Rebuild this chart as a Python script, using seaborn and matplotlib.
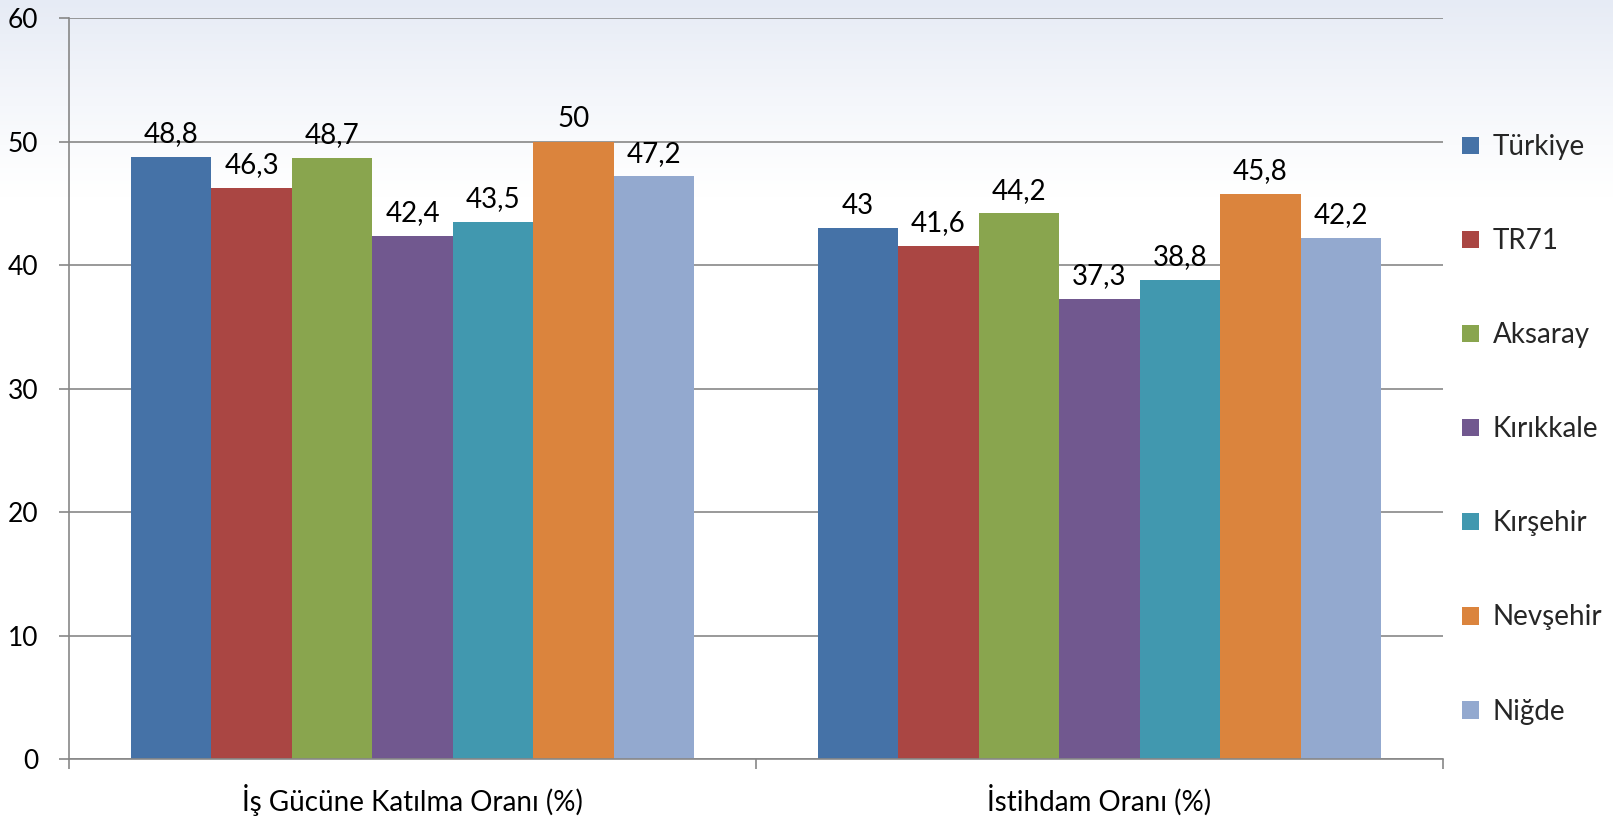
import numpy as np
import pandas as pd
import matplotlib
matplotlib.use("Agg")
import matplotlib.pyplot as plt
import seaborn as sns

categories = ["İş Gücüne Katılma Oranı (%)", "İstihdam Oranı (%)"]
regions = ["Türkiye", "TR71", "Aksaray", "Kırıkkale", "Kırşehir", "Nevşehir", "Niğde"]
participation = [48.8, 46.3, 48.7, 42.4, 43.5, 50.0, 47.2]
employment = [43.0, 41.6, 44.2, 37.3, 38.8, 45.8, 42.2]
colors = ["#4572A7", "#AA4643", "#89A54E", "#71588F", "#4198AF", "#DB843D", "#93A9CF"]

rows = []
for r, a, b in zip(regions, participation, employment):
    rows.append({"category": categories[0], "region": r, "value": a})
    rows.append({"category": categories[1], "region": r, "value": b})
df = pd.DataFrame(rows)

sns.set_theme(style="white")
plt.rcParams["font.family"] = ["Lato", "DejaVu Sans"]

fig = plt.figure(figsize=(16.13, 8.21), dpi=100)

# background gradient
bg = fig.add_axes([0, 0, 1, 1], zorder=-10)
h = 400
grad = np.ones((h, 1, 3))
top = np.array([0xe6, 0xeb, 0xf5]) / 255.0
for i in range(h):
    t = i / h
    f = max(0.0, 1 - t / 0.24) ** 1.2
    grad[i, 0, :] = top * f + np.ones(3) * (1 - f)
bg.imshow(grad, aspect="auto", extent=[0, 1, 0, 1], origin="upper")
bg.axis("off")

ax = fig.add_axes([0.0428, 0.0755, 0.8518, 0.902])
ax.set_facecolor("none")
sns.barplot(data=df, x="category", y="value", hue="region", order=categories,
            hue_order=regions, palette=colors, width=0.82, saturation=1,
            dodge=True, ax=ax, legend=True, linewidth=0, edgecolor="none")

for cont in ax.containers:
    labels = []
    for bar in cont:
        v = bar.get_height()
        s = f"{v:.1f}".rstrip("0").rstrip(".").replace(".", ",")
        labels.append(s)
    ax.bar_label(cont, labels=labels, padding=7, fontsize=20, color="#000000")

ax.set_ylim(0, 60)
ax.set_xlim(-0.5, 1.5)
ax.set_yticks(range(0, 61, 10))
ax.yaxis.grid(True, color="#878787", linewidth=1.2)
ax.set_axisbelow(True)
ax.set_xlabel("")
ax.set_ylabel("")
for s in ["top", "right"]:
    ax.spines[s].set_visible(False)
for s in ["left", "bottom"]:
    ax.spines[s].set_color("#878787")
    ax.spines[s].set_linewidth(1.2)
ax.tick_params(axis="y", which="major", length=7, width=1.2, color="#878787",
               labelsize=19, pad=15, left=True)
ax.tick_params(axis="x", which="major", length=0, labelsize=20, pad=18)
ax.set_xticks([-0.5, 0.5, 1.5], minor=True)
ax.tick_params(axis="x", which="minor", length=7, width=1.2, color="#878787", bottom=True)
for lbl in ax.get_xticklabels() + ax.get_yticklabels():
    lbl.set_color("#000000")

leg = ax.get_legend()
handles, labels_ = ax.get_legend_handles_labels()
leg.remove()
fig.legend(handles, labels_, loc="center left", bbox_to_anchor=(0.898, 0.477),
           frameon=False, fontsize=20, labelspacing=2.45, handlelength=0.6,
           handleheight=0.6, handletextpad=0.5, borderpad=0)

fig.savefig("out.png", dpi=100)
